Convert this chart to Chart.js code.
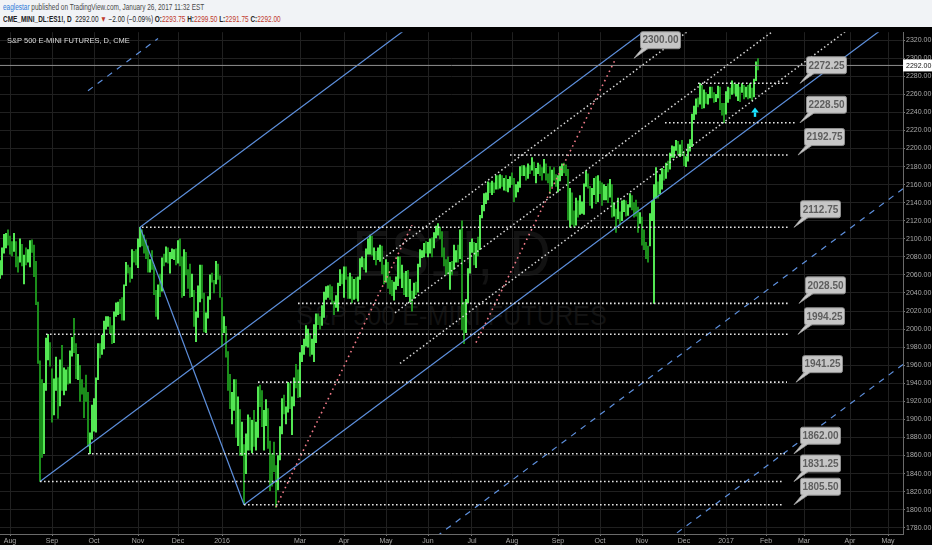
<!DOCTYPE html>
<html><head><meta charset="utf-8">
<script src="https://cdn.jsdelivr.net/npm/chart.js@4.4.1/dist/chart.umd.min.js"></script>
<style>
html,body{margin:0;padding:0;background:#f1f3f6;width:932px;height:550px;overflow:hidden;font-family:'Liberation Sans',Arial,sans-serif;}
#hdr{position:absolute;left:0;top:0;width:932px;height:27px;}
.l1,.l2{position:absolute;left:3px;white-space:nowrap;transform-origin:0 0;transform:scaleX(0.76);font-size:8.5px;}
.l1{top:2px;color:#4a4a4a}
.l2{top:14px;color:#222}
.user{color:#2f7bd8}
.red{color:#c0392b}
#wrap{position:absolute;left:0;top:27px;width:932px;height:518px;background:#000;}
.wm{position:absolute;left:0;width:903px;text-align:center;color:#121212;white-space:nowrap;font-family:'Liberation Sans',sans-serif;transform:scaleX(0.9);}
#wm1{top:190px;font-size:64px;}
#wm2{top:273px;font-size:28px;}
#title{position:absolute;left:7px;top:9px;color:#dcdcdc;font-size:7.5px;white-space:nowrap;}
canvas{position:absolute;left:0;top:0}
</style></head>
<body>
<div id="hdr">
  <div class="l1"><span class="user">eaglestar</span> published on TradingView.com, January 26, 2017 11:32 EST</div>
  <div class="l2"><b>CME_MINI_DL:ES1!, D</b>&nbsp; 2292.00 <span class="red">▼</span> −2.00 (−0.09%) <b>O:</b><span class="red">2293.75</span> <b>H:</b><span class="red">2299.50</span> <b>L:</b><span class="red">2291.75</span> <b>C:</b><span class="red">2292.00</span></div>
</div>
<div id="wrap">
  <div class="wm" id="wm1">ES1!, D</div>
  <div class="wm" id="wm2">S&amp;P 500 E-MINI FUTURES</div>
  <canvas id="c" width="932" height="518"></canvas>
  <div id="title">S&amp;P 500 E-MINI FUTURES, D, CME</div>
</div>
<script>
// ---- DATA ----
const firstBarIndex = -5; // Jul 27 2015 (bar index 0 = Aug 3 2015)
const lows = [
 2056,2060,2084,2090,2093,
 2083,2081,2086,2069,2063,2074,2070,2050,2071,2074,2069,2085,2058,2027,1962,1831.25,1858,1862,1932,1966,1959,
 1897,1905,1932,1901,1915,1932,1927,1932,1939,1940,1970,1974,1945,1944,1920,1928,1902,1920,1870,1862,1878,
 1887,1886,1944,1968,1972,1978,2000,2003,1995,1984,1985,2014,2016,2017,2010,2010,2048,2062,2052,2056,2074,2071,
 2068,2091,2092,2084,2078,2063,2063,2066,2038,2014,2011,2036,2042,2070,2074,2073,2062,2078,2077,2071,
 2073,2070,2035,2037,2060,2045,2035,2036,2003,1986,2013,2030,2034,1997,1996,2012,2033,2052,2040,2050,2055,2035,
 1981,1996,1969,1932,1912,1895,1910,1880,1871,1860,1860,1805.5,1840,1866,1866,1863,1870,1866,1880,
 1914,1892,1866,1893,1868,1821,1826,1842,1802.5,1822,1855,1884,1906,1895,1908,1912,1883,1915,1935,1924,
 1925,1964,1972,1981,1980,1970,1972,1964,1985,2005,2000,2004,2013,2033,2035,2033,2028,2016,2024,2020,2048,2050,
 2035,2055,2034,2034,2029,2033,2034,2031,2055,2069,2066,2063,2083,2083,2082,2077,2071,2077,2075,2061,2050,
 2052,2045,2039,2037,2032,2044,2048,2056,2046,2038,2036,2036,2030,2020,2034,2038,2041,2069,2079,2080,2084,
 2080,2084,2080,2090,2101,2104,2100,2080,2070,2060,2061,2044,2060,2066,2074,2074,2078,1999,1984,1996,2029,2062,
 2085,2071,2068,2081,2088,2123,2131,2139,2143,2151,2149,2151,2155,2155,2156,2158,2154,2153,2152,2157,
 2160,2141,2146,2152,2157,2170,2170,2165,2167,2172,2176,2170,2162,2172,2170,2165,2173,2165,2162,2150,2158,2165,2158,
 2152,2164,2170,2173,2170,2121,2113,2116,2113,2115,2124,2127,2128,2127,2158,2156,2137,2134,2149,2139,2141,
 2150,2137,2143,2143,2140,2146,2124,2125,2107,2122,2115,2120,2130,2125,2126,2135,2132,2124,2125,2107,2117,
 2093,2088,2078,2074,2092,2120,2028.5,2145,2145,2150,2155,2165,2167,2174,2177,2190,2190,2198,2193,2191,2192,
 2181,2180,2186,2197,2202,2232,2238,2246,2249,2244,2245,2250,2249,2256,2256,2251,2252,2256,2243,2237,2228.5,
 2238,2251,2255,2260,2261,2258,2253,2252,2262,2255,2257,2255,2256,2253,2257,2275,2287
];
const highs = [
 2076,2090,2105,2106,2110,
 2103,2097,2106,2097,2080,2100,2094,2082,2090,2088,2098,2099,2093,2075,2030,1965,1944,1940,1990,1994.25,1985,
 1956,1945,1969,1946,1966,1982,1957,1955,1958,1976,1991,2012,1984,1972,1960,1944,1935,1949,1930,1885,1916,
 1923,1946,1984,1984,1993,2009,2014,2014,2013,2004,2019,2029,2030,2033,2035,2049,2074,2071,2068,2088,2086,2088,
 2100,2112.75,2110,2104,2099,2092,2077,2087,2071,2043,2049,2061,2079,2083,2091,2090,2085,2089,2088,2089,
 2098,2100,2080,2088,2085,2066,2072,2061,2043,2019,2048,2071,2071,2040,2018,2036,2060,2062,2054,2075,2072,2059,
 2035,2014,2003,1975,1950,1930,1944,1944,1925,1911,1897,1872,1884,1905,1902,1899,1910,1897,1936,
 1938,1932,1910,1922,1912,1876,1862,1875,1849,1860,1892,1923,1927,1914,1941,1940,1925,1946,1961,1955,
 1974,1982,1989,2004,2000,1995,1989,2005,2017,2017,2014,2026,2041,2047,2048,2049,2047,2031,2037,2051,2066,2061,
 2069,2069,2058,2062,2058,2055,2057,2058,2078,2080,2078,2089,2100,2104,2103,2090,2086,2090,2093,2092,2071,
 2077,2074,2058,2054,2052,2058,2080,2080,2071,2062,2064,2065,2055,2042,2051,2052,2072,2088,2087,2095,2097,
 2096,2100,2101,2107,2114,2117,2113,2108,2090,2077,2080,2074,2075,2093,2087,2093,2110,2120,2030,2033,2067,2096,
 2100,2096,2095,2102,2126,2137,2150,2151,2163,2162,2164,2162,2170,2170,2171,2170,2167,2170,2166,2169,
 2173,2167,2160,2163,2180,2181,2181,2179,2183,2181,2190,2185,2178,2184,2182,2179,2188,2183,2172,2180,2176,2179,2171,
 2170,2180,2183,2184,2182,2177,2156,2151,2131,2145,2142,2148,2141,2161,2175,2172,2158,2156,2167,2169,2170,
 2164,2162,2160,2158,2161,2166,2160,2140,2133,2145,2130,2142,2143,2142,2138,2150,2148,2140,2143,2135,2129,
 2124,2110,2096,2092,2128,2142,2160,2179,2163,2171,2178,2177,2184,2186,2195,2203,2202,2209,2208,2204,2209,
 2197,2191,2205,2210,2238,2247,2255,2256,2272.25,2270,2265,2262,2260,2268,2268,2262,2260,2269,2268,2250,2250,
 2263,2268,2267,2275,2272,2271,2271,2268,2272,2270,2268,2270,2272,2267,2277,2296,2299.5
];
const closes = [
 2062,2087,2103,2103,2098,
 2092,2087,2094,2078,2072,2098,2078,2080,2077,2085,2096,2091,2073,2030,1966,1888,1862,1935,1982,1983,1966,
 1908,1943,1945,1915,1963,1936,1946,1955,1947,1972,1989,1984,1952,1961,1937,1933,1926,1925,1876,1878,1914,
 1918,1945,1981,1974,1990,2007,2009,2012,1998,1988,2018,2027,2028,2025,2013,2047,2069,2065,2060,2085,2083,2073,
 2098,2104,2096,2094,2093,2072,2076,2069,2040,2017,2047,2044,2077,2075,2083,2080,2083,2083,2084,2074,
 2096,2073,2043,2085,2071,2057,2041,2046,2006,2016,2037,2067,2036,1999,2015,2033,2058,2055,2050,2072,2057,2038,
 2006,2010,1984,1937,1916,1917,1932,1884,1915,1874,1875,1853,1863,1900,1871,1897,1876,1887,1934,
 1933,1897,1906,1909,1874,1847,1846,1845,1823,1858,1889,1920,1911,1911,1939,1915,1923,1945,1942,1926,
 1972,1980,1987,1994,1996,1973,1983,1984,2016,2013,2010,2021,2034,2043,2045,2043,2030,2029,2031,2049,2058,2054,
 2067,2060,2039,2061,2036,2042,2036,2056,2077,2077,2075,2088,2095,2097,2086,2086,2082,2086,2089,2070,2059,
 2075,2057,2045,2044,2051,2052,2078,2058,2058,2040,2060,2041,2041,2034,2046,2042,2070,2084,2084,2093,2091,
 2093,2099,2093,2103,2106,2113,2109,2090,2073,2069,2065,2072,2065,2077,2083,2079,2107,2031,1994,2030,2065,2093,
 2097,2082,2094,2092,2124,2131,2146,2146,2158,2156,2161,2158,2167,2159,2169,2162,2163,2160,2164,2167,
 2165,2151,2158,2158,2177,2175,2176,2170,2180,2178,2184,2173,2176,2181,2178,2177,2181,2169,2166,2163,2174,2170,2165,
 2165,2174,2181,2180,2175,2122,2153,2121,2120,2141,2133,2133,2134,2158,2172,2159,2140,2154,2166,2145,2162,
 2156,2145,2154,2155,2148,2158,2131,2134,2127,2127,2121,2134,2139,2136,2136,2146,2138,2134,2128,2121,2121,
 2107,2093,2084,2080,2126,2134,2158,2162,2159,2159,2175,2172,2182,2177,2193,2198,2199,2208,2196,2200,2194,
 2186,2187,2200,2207,2236,2241,2254,2252,2266,2248,2257,2253,2257,2265,2260,2256,2259,2264,2245,2244,2234,
 2253,2266,2264,2272,2264,2264,2270,2265,2269,2263,2267,2259,2266,2260,2275,2294,2292
];
const monthTickIdx = [0,21,42,64,84,106,145,167,188,209,231,251,274,295,316,337,358,378,397,420,439];
const monthTickLabels = ['Aug','Sep','Oct','Nov','Dec','2016','Mar','Apr','May','Jun','Jul','Aug','Sep','Oct','Nov','Dec','2017','Feb','Mar','Apr','May'];
const yTickValues = [1780,1800,1820,1840,1860,1880,1900,1920,1940,1960,1980,2000,2020,2040,2060,2080,2100,2120,2140,2160,2180,2200,2220,2240,2260,2280,2300,2320];
const xRange = [-5, 446.5];
const yRange = [1773.1, 2328.8];
const lastPrice = 2292.00;
const levelPrices   = [2272.25, 2228.50, 2192.75, 2112.75, 2028.50, 1994.25, 1941.25, 1862.00, 1831.25, 1805.50];
const levelStartIdx = [344, 327.5, 250, 66, 144, 18, 124, 39, 15, 117];
const levelEndIdx   = [389, 392.5, 389, 389, 390, 390, 388.5, 387.5, 386, 386.5];
const calloutPrices = [2300.00, 2272.25, 2228.50, 2192.75, 2112.75, 2028.50, 1994.25, 1941.25, 1862.00, 1831.25, 1805.50];
const calloutIdx    = [312, 395, 395, 394, 392, 394.5, 394, 393, 392, 392, 392];
// trend-line anchors: [startIdx, startPrice, endIdx, endPrice]
const channelSolid  = [[15,1831.25,446.5,2543.5],[65,2112.75,446.5,2742.4],[117,1805.5,446.5,2349.4],[65,2112.75,117,1805.5]];
const channelDashed = [[39,2264,74,2321.8],[117,1611.5,446.5,2155.4],[117,1417,446.5,1960.9]];
const innerDotted   = [[186.5,2078.2,446.5,2507.4],[192.5,2018,446.5,2437.3],[195,1962,446.5,2377]];
const pinkDotted    = [[133,1803,201,2115],[233,1985,302.5,2298]];
const arrowPoint    = [372.5, 2240];

// ---- CHART ----
const FONT = "'Liberation Sans', Arial, sans-serif";
const upColor = '#5cff5c', downColor = '#1e9c1e';
const barColors = closes.map((c,i)=> (i===0 || c>=closes[i-1]) ? upColor : downColor);

function seg(a, color, width, dash){
  return {type:'line', data:[{x:a[0],y:a[1]},{x:a[2],y:a[3]}], borderColor:color, borderWidth:width,
    borderDash:dash||[], pointRadius:0, fill:false, tension:0, order:1};
}
const datasets = [];
datasets.push({type:'bar', data: lows.map((l,i)=>({x:firstBarIndex+i, y:[l, highs[i]]})),
  backgroundColor: barColors, borderWidth:0, barThickness:1.15, order:10, grouped:false});
datasets.push(seg([xRange[0], lastPrice, xRange[1], lastPrice], '#8f8f8f', 1));
levelPrices.forEach((p,i)=>datasets.push(seg([levelStartIdx[i],p,levelEndIdx[i],p], '#e6e6e6', 1.6, [1.6,2.4])));
innerDotted.forEach(a=>datasets.push(seg(a,'#d8d8d8',1.5,[1.5,2.6])));
pinkDotted.forEach(a=>datasets.push(seg(a,'#f07a88',1.6,[1.6,3.6])));
channelSolid.forEach(a=>datasets.push(seg(a,'#5d8fdc',1.2)));
channelDashed.forEach(a=>datasets.push(seg(a,'#5d8fdc',1.2,[6,6])));

const overlay = {
  id:'overlay',
  afterDatasetsDraw(chart){
    const {ctx, scales:{x,y}} = chart;
    ctx.save();
    // cyan arrow
    const ax = x.getPixelForValue(arrowPoint[0]), ay = y.getPixelForValue(arrowPoint[1]);
    ctx.fillStyle = '#19e3ff';
    ctx.beginPath(); ctx.moveTo(ax-3.8, ay); ctx.lineTo(ax, ay-5); ctx.lineTo(ax+3.8, ay); ctx.closePath(); ctx.fill();
    ctx.fillRect(ax-1.2, ay, 2.4, 4.5);
    // callouts
    calloutPrices.forEach((p,i)=>{
      const px = x.getPixelForValue(calloutIdx[i]), py = y.getPixelForValue(p);
      const bx = px+6, by = py-27, bw = 40, bh = 17;
      ctx.fillStyle = '#c6c6c6'; ctx.strokeStyle = '#8f8f8f'; ctx.lineWidth = 1;
      ctx.beginPath(); ctx.moveTo(px, py); ctx.lineTo(bx+3, by+bh-1); ctx.lineTo(bx+10, by+bh-1); ctx.closePath();
      ctx.fill(); ctx.stroke();
      ctx.beginPath(); ctx.roundRect(bx+0.5, by+0.5, bw, bh, 2); ctx.fill(); ctx.stroke();
      ctx.beginPath(); ctx.moveTo(px+1, py-1); ctx.lineTo(bx+4, by+bh-1); ctx.lineTo(bx+9, by+bh-1); ctx.closePath(); ctx.fill();
      ctx.fillStyle = '#5e5e5e'; ctx.font = 'bold 10px ' + FONT; ctx.textAlign = 'center'; ctx.textBaseline = 'middle';
      ctx.fillText(p.toFixed(2), bx+bw/2+0.5, by+bh/2+1);
    });
    ctx.restore();
  },
  afterDraw(chart){
    const {ctx, scales:{y}, chartArea} = chart;
    const py = y.getPixelForValue(lastPrice);
    ctx.save();
    ctx.fillStyle = '#ffffff';
    ctx.fillRect(chartArea.right, py-6, 29, 12);
    ctx.fillStyle = '#111'; ctx.font = '7px ' + FONT; ctx.textAlign = 'left'; ctx.textBaseline = 'middle';
    ctx.fillText(lastPrice.toFixed(2), chartArea.right+3, py+0.5);
    ctx.restore();
  }
};

new Chart(document.getElementById('c'), {
  type:'bar',
  data:{datasets},
  options:{
    responsive:false, animation:false, events:[],
    layout:{padding:0},
    plugins:{legend:{display:false}, tooltip:{enabled:false}, title:{display:false}},
    scales:{
      x:{type:'linear', min:xRange[0], max:xRange[1], offset:false,
        afterBuildTicks: ax => { ax.ticks = monthTickIdx.map(v=>({value:v})); },
        afterFit: ax => { ax.height = 11; },
        ticks:{callback:(v,i)=>monthTickLabels[i], color:'#a8a8a8', font:{size:7, family:FONT}, maxRotation:0, autoSkip:false, padding:1},
        grid:{color:'#202020', tickLength:2, tickColor:'#777', offset:false},
        border:{color:'#6a6a6a'}},
      y:{type:'linear', position:'right', min:yRange[0], max:yRange[1],
        afterBuildTicks: ax => { ax.ticks = yTickValues.map(v=>({value:v})); },
        afterFit: ax => { ax.width = 29; },
        ticks:{callback:v=>Number(v).toFixed(2), color:'#a8a8a8', font:{size:7, family:FONT}, padding:1},
        grid:{color:'#202020', tickLength:2, tickColor:'#777'},
        border:{color:'#6a6a6a'}}
    }
  },
  plugins:[overlay]
});
</script>
</body></html>
